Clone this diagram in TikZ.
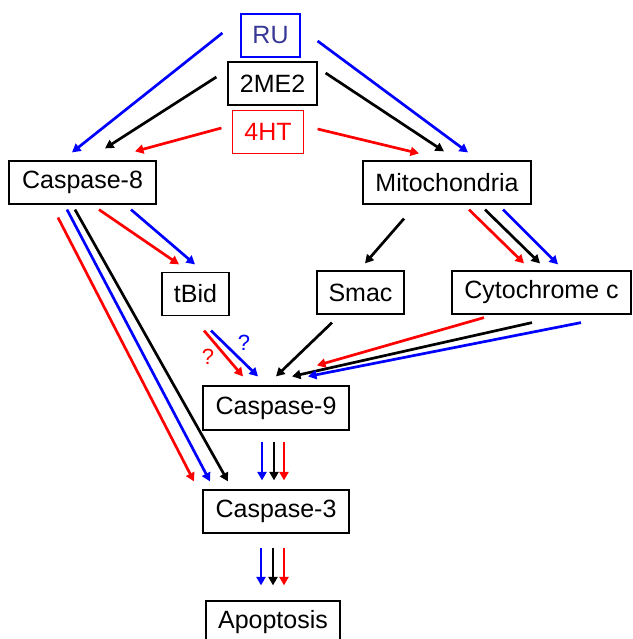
\documentclass[tikz,border=0pt]{standalone}
\usepackage{fontspec}
\setmainfont{Liberation Sans}
\usetikzlibrary{calc,arrows.meta}
\tikzset{>={Triangle[length=8.5pt,width=9pt]}}
\definecolor{rublue}{RGB}{55,55,150}
\tikzstyle{box}=[draw,line width=1.2,inner sep=0,minimum height=43,font=\fontsize{25}{30}\selectfont]
\tikzstyle{arr}=[->,line width=2.7]
\tikzstyle{qmark}=[font=\fontsize{22}{26}\selectfont,inner sep=0]

\begin{document}
\begin{tikzpicture}[x=1pt,y=-1pt]
  \useasboundingbox (0,0) rectangle (632,639);

  % BOXES
  \node[box,minimum width=59,draw=blue,text=rublue] (ru)   at (270.5,35.5) {RU};
  \node[box,minimum width=89]                       (me)   at (272.5,83.5) {2ME2};
  \node[box,minimum width=71,draw=red,text=red]     (ht)   at (268,132)    {4HT};
  \node[box,minimum width=147]                      (c8)   at (82.5,182.5) {Caspase-8};
  \node[box,minimum width=168]                      (mi)   at (447,182.5)  {Mitochondria};
  \node[box,minimum width=67]                       (tbid) at (195.5,294)  {tBid};
  \node[box,minimum width=87]                       (smac) at (360.5,292.5) {Smac};
  \node[box,minimum width=179]                      (cyt)  at (541.5,292.5) {Cytochrome c};
  \node[box,minimum width=146,minimum height=44]    (c9)   at (276,408)    {Caspase-9};
  \node[box,minimum width=146]                      (c3)   at (276,511.5)  {Caspase-3};
  \node[box,minimum width=134]                      (apo)  at (273,622.5)  {Apoptosis};

  % DRUGS
  \draw[arr,blue]  ($(ru.west)+(-18,-2.5)$) -- ($(c8.north)+(-10.5,-8)$);
  \draw[arr,blue]  ($(ru.east)+(17,5.5)$)   -- ($(mi.north)+(21,-8)$);
  \draw[arr,black] ($(me.west)+(-11,-6.5)$) -- ($(c8.north)+(22.5,-12)$);
  \draw[arr,black] ($(me.east)+(8,-10.5)$)  -- ($(mi.north)+(-3,-9)$);
  \draw[arr,red]   ($(ht.west)+(-10.5,-4)$) -- ($(c8.north)+(52.5,-9)$);
  \draw[arr,red]   ($(ht.east)+(13.5,-3)$)  -- ($(mi.north)+(-28,-7)$);

  % CASPASE-8
  \draw[arr,red]   ($(c8.south)+(-24.5,13)$) -- ($(c3.north)+(-82,-8)$);
  \draw[arr,blue]  ($(c8.south)+(-15.5,5)$)  -- ($(c3.north)+(-66,-8)$);
  \draw[arr,black] ($(c8.south)+(-7.5,5)$)   -- ($(c3.north)+(-48,-8)$);
  \draw[arr,red]   ($(c8.south)+(16.5,5)$)   -- ($(tbid.north)+(-16.5,-7.5)$);
  \draw[arr,blue]  ($(c8.south)+(48.5,5)$)   -- ($(tbid.north)+(-0.5,-7.5)$);

  % MITOCHONDRIA
  \draw[arr,black] ($(mi.south)+(-43,14)$) -- ($(smac.north)+(4.5,-7)$);
  \draw[arr,red]   ($(mi.south)+(22,5)$)   -- ($(cyt.north)+(-17.5,-7)$);
  \draw[arr,black] ($(mi.south)+(38,5)$)   -- ($(cyt.north)+(-1.5,-7)$);
  \draw[arr,blue]  ($(mi.south)+(56,5)$)   -- ($(cyt.north)+(16.5,-6)$);

  % CASPASE-9
  \draw[arr,red]   ($(tbid.south)+(8.5,14.5)$)  -- ($(c9.north)+(-33,-9)$);
  \draw[arr,blue]  ($(tbid.south)+(15.5,14.5)$) -- ($(c9.north)+(-18,-9)$);
  \node[qmark,text=red]  (qr) at (208,357) {?};
  \node[qmark,text=blue] (qb) at (244,343) {?};
  \draw[arr,black] ($(smac.south)+(-28.5,8)$) -- ($(c9.north)+(0,-9)$);
  \draw[arr,red]   ($(cyt.south)+(-57.5,3)$)  -- ($(c9.north)+(41,-20)$);
  \draw[arr,black] ($(cyt.south)+(-9.5,8)$)   -- ($(c9.north)+(16,-9)$);
  \draw[arr,blue]  ($(cyt.south)+(39.5,8)$)   -- ($(c9.north)+(32,-9)$);

  % CASPASE-3 AND APOPTOSIS
  \draw[arr,blue]  ($(c9.south)+(-14,11)$) -- ($(c3.north)+(-14,-9)$);
  \draw[arr,black] ($(c9.south)+(-2,11)$)  -- ($(c3.north)+(-2,-9)$);
  \draw[arr,red]   ($(c9.south)+(8,11)$)   -- ($(c3.north)+(8,-9)$);
  \draw[arr,blue]  ($(c3.south)+(-15,14)$) -- ($(apo.north)+(-12,-15)$);
  \draw[arr,black] ($(c3.south)+(-3,14)$)  -- ($(apo.north)+(0,-15)$);
  \draw[arr,red]   ($(c3.south)+(8,14)$)   -- ($(apo.north)+(11,-15)$);
\end{tikzpicture}
\end{document}
